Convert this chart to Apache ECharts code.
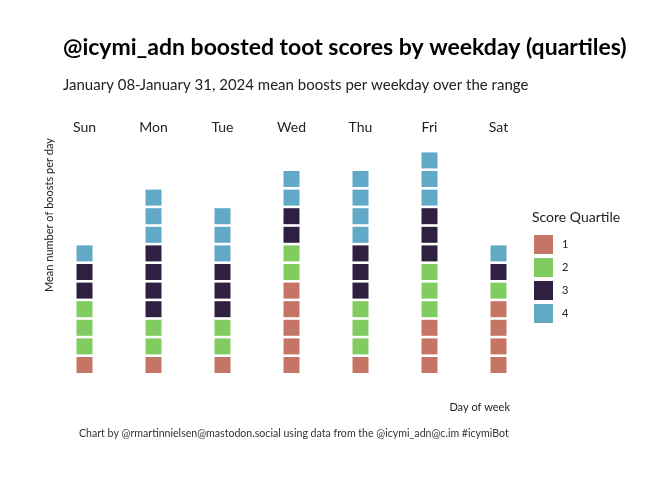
<!DOCTYPE html>
<html><head><meta charset="utf-8">
<script src="https://cdn.jsdelivr.net/npm/echarts@6/dist/echarts.min.js"></script>
<style>html,body{margin:0;padding:0;background:#fff}#c{width:672px;height:480px}</style>
</head><body><div id="c"></div>
<script>
const days = ['Sun','Mon','Tue','Wed','Thu','Fri','Sat'];
const quartiles = ['1','2','3','4'];
const q1 = [1,1,1,5,1,3,4];
const q2 = [3,2,2,2,3,3,1];
const q3 = [2,4,3,2,3,3,1];
const q4 = [1,3,3,2,4,3,1];
const colors = ['#c57565','#80cc60','#2f1f40','#62a9c7'];
const FONT = 'Lato';

const counts = [q1,q2,q3,q4];
const series = counts.map((arr, qi) => {
  const data = [];
  arr.forEach((n, d) => {
    let base = 0;
    for (let j = 0; j < qi; j++) base += counts[j][d];
    for (let k = 0; k < n; k++) data.push([d, base + k]);
  });
  return {
    name: quartiles[qi], type: 'custom', data,
    itemStyle: {color: colors[qi]},
    renderItem: (params, api) => {
      const d = api.value(0), v = api.value(1);
      const b = api.coord([d, v]);
      const t = api.coord([d, v + 1]);
      const pitch = b[1] - t[1];
      const g = pitch * 0.07;
      const h = pitch - 2 * g;
      return {type: 'rect', shape: {x: b[0] - h / 2, y: t[1] + g, width: h, height: h},
        style: {fill: colors[qi]}};
    }
  };
});

const chart = echarts.init(document.getElementById('c'), null, {renderer: 'canvas'});
chart.setOption({
  animation: false,
  textStyle: {fontFamily: FONT},
  title: [
    {text: '@icymi_adn boosted toot scores by weekday (quartiles)', left: 63, top: 36, padding: 0,
      textStyle: {fontFamily: FONT, fontSize: 23, fontWeight: 'bold', color: '#000'}},
    {text: 'January 08-January 31, 2024 mean boosts per weekday over the range', left: 63, top: 78, padding: 0,
      textStyle: {fontFamily: FONT, fontSize: 15, fontWeight: 'normal', color: '#222'}},
    {text: 'Score Quartile', left: 532, top: 210, padding: 0,
      textStyle: {fontFamily: FONT, fontSize: 14, fontWeight: 'normal', color: '#222'}},
    {text: 'Day of week', right: 162, top: 402, padding: 0,
      textStyle: {fontFamily: FONT, fontSize: 11, fontWeight: 'normal', color: '#222'}},
    {text: 'Chart by @rmartinnielsen@mastodon.social using data from the @icymi_adn@c.im #icymiBot', left: 79, top: 428, padding: 0,
      textStyle: {fontFamily: FONT, fontSize: 10.6, fontWeight: 'normal', color: '#333'}}
  ],
  legend: {
    orient: 'vertical', left: 534, top: 235, padding: 0,
    itemWidth: 19, itemHeight: 19, itemGap: 4, icon: 'rect',
    data: quartiles,
    textStyle: {fontFamily: FONT, fontSize: 11, color: '#222', padding: [0, 0, 0, 4]}
  },
  grid: {left: 50, width: 483, top: 132.5, bottom: 105.7, containLabel: false},
  xAxis: {
    type: 'category', data: days, position: 'top',
    axisLine: {show: false}, axisTick: {show: false}, splitLine: {show: false},
    axisLabel: {margin: -2, fontFamily: FONT, fontSize: 14, color: '#222'}
  },
  yAxis: {
    type: 'value', min: 0, max: 13,
    axisLine: {show: false}, axisTick: {show: false}, splitLine: {show: false}, axisLabel: {show: false}
  },
  graphic: [{
    type: 'text', x: 49, y: 215, rotation: Math.PI / 2,
    style: {text: 'Mean number of boosts per day', fontFamily: FONT, fontSize: 11, fill: '#222',
      textAlign: 'center', textVerticalAlign: 'middle'}
  }],
  series
});
</script></body></html>
